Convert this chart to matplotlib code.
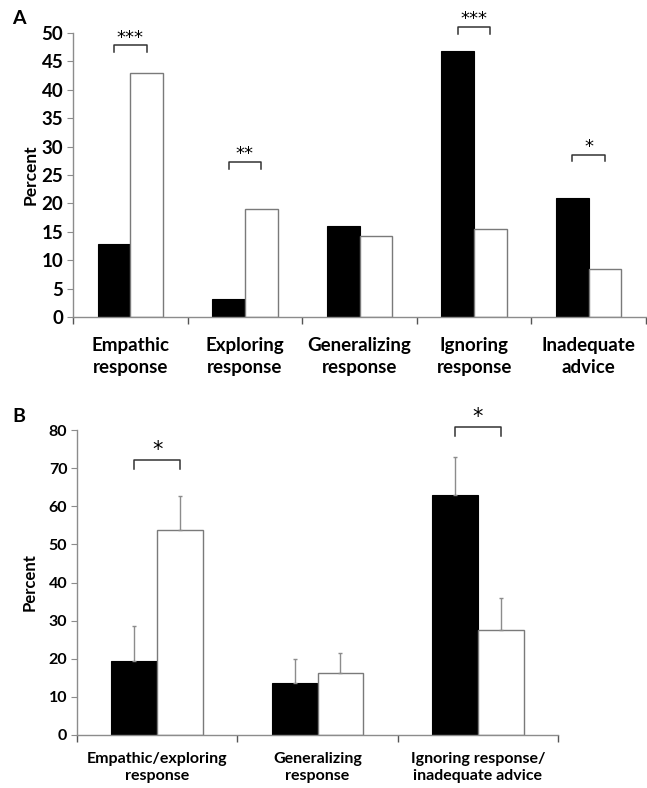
import matplotlib.pyplot as plt
import numpy as np

plt.rcParams['font.family'] = ['Lato', 'DejaVu Sans']
plt.rcParams['font.weight'] = 'bold'
plt.rcParams['axes.labelweight'] = 'bold'

# panel A data
cats_a = ["Empathic\nresponse", "Exploring\nresponse", "Generalizing\nresponse",
          "Ignoring\nresponse", "Inadequate\nadvice"]
black_a = [12.9, 3.2, 16.1, 46.8, 21.0]
white_a = [43.0, 19.0, 14.3, 15.5, 8.4]
stars_a = ["***", "**", "", "***", "*"]
bracket_a = [47.8, 27.3, None, 51.0, 28.6]

# panel B data
cats_b = ["Empathic/exploring\nresponse", "Generalizing\nresponse",
          "Ignoring response/\ninadequate advice"]
black_b = [19.5, 13.7, 63.0]
white_b = [53.8, 16.2, 27.6]
black_err = [9.2, 6.2, 10.0]
white_err = [9.0, 5.4, 8.4]
stars_b = ["*", "", "*"]
bracket_b = [72.2, None, 80.7]

W = 647
H = 788
fig = plt.figure(figsize=(W / 100, H / 100), dpi=100)

edge = "#7a7a7a"
bw = 0.285


def style(ax, n, fs_tick):
    for s in ["top", "right"]:
        ax.spines[s].set_visible(False)
    for s in ["left", "bottom"]:
        ax.spines[s].set_color("#8c8c8c")
        ax.spines[s].set_linewidth(1.0)
    ax.set_xlim(0, n)
    ax.set_xticks([])
    ax.set_xticks(np.arange(n + 1), minor=True)
    ax.tick_params(axis="x", which="minor", length=5, color="#555555", width=1)
    ax.tick_params(axis="y", length=4, color="#8c8c8c", labelsize=fs_tick, pad=3)
    for t in ax.get_yticklabels():
        t.set_fontweight("bold")


def bracket(ax, x0, x1, y, drop, txt, fs, gap):
    ax.plot([x0, x0, x1, x1], [y - drop, y, y, y - drop], color="#333333",
            lw=1.1, clip_on=False)
    ax.text((x0 + x1) / 2, y + gap, txt, ha="center", va="bottom",
            fontsize=fs, clip_on=False, family="DejaVu Sans", fontweight="normal")


# ---- A ----
axa = fig.add_axes([73 / W, 1 - 317 / H, 573 / W, 284 / H])
x = np.arange(len(cats_a)) + 0.5
axa.bar(x - bw / 2, black_a, bw, color="black", edgecolor="black", lw=0.8)
axa.bar(x + bw / 2, white_a, bw, color="white", edgecolor=edge, lw=1.0)
axa.set_ylim(0, 50)
axa.set_yticks(np.arange(0, 51, 5))
style(axa, len(cats_a), 13.5)
for i, c in enumerate(cats_a):
    axa.text(x[i], -3.5, c, ha="center", va="top", fontsize=13.5,
             linespacing=1.35)
axa.set_ylabel("Percent", fontsize=12.5, labelpad=2)
for i in range(len(cats_a)):
    if bracket_a[i] is not None:
        bracket(axa, x[i] - bw / 2, x[i] + bw / 2, bracket_a[i], 1.2,
                stars_a[i], 13, -0.2)

# ---- B ----
axb = fig.add_axes([77 / W, 1 - 735 / H, 481 / W, 305 / H])
xb = np.arange(len(cats_b)) + 0.5
axb.bar(xb - bw / 2, black_b, bw, color="black", edgecolor="black", lw=0.8)
axb.bar(xb + bw / 2, white_b, bw, color="white", edgecolor=edge, lw=1.0)
axb.errorbar(xb - bw / 2, black_b, yerr=[np.zeros(3), black_err], fmt="none",
             ecolor="#8c8c8c", elinewidth=1.0, capsize=1.5, capthick=1.0)
axb.errorbar(xb + bw / 2, white_b, yerr=[np.zeros(3), white_err], fmt="none",
             ecolor="#8c8c8c", elinewidth=1.0, capsize=1.5, capthick=1.0)
axb.set_ylim(0, 80)
axb.set_yticks(np.arange(0, 81, 10))
style(axb, len(cats_b), 11.5)
for i, c in enumerate(cats_b):
    axb.text(xb[i], -4.5, c, ha="center", va="top", fontsize=11.5,
             linespacing=1.3)
axb.set_ylabel("Percent", fontsize=12, labelpad=8)
for i in range(len(cats_b)):
    if bracket_b[i] is not None:
        bracket(axb, xb[i] - bw / 2, xb[i] + bw / 2, bracket_b[i], 2.4,
                stars_b[i], 15, 0.0)

fig.text(12 / W, 1 - 18 / H, "A", fontsize=14, va="center", ha="left")
fig.text(12 / W, 1 - 416 / H, "B", fontsize=14, va="center", ha="left")

fig.savefig("out.png", dpi=100)
